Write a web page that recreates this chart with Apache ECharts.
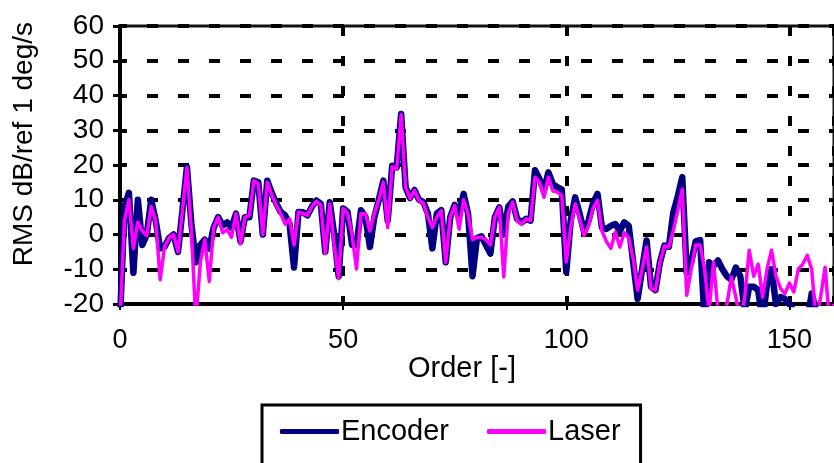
<!DOCTYPE html>
<html>
<head>
<meta charset="utf-8">
<script src="https://cdn.jsdelivr.net/npm/echarts@6/dist/echarts.min.js"></script>
<style>
  html, body { margin: 0; padding: 0; background: #fff; }
  #chart { width: 834px; height: 463px; }
</style>
</head>
<body>
<div id="chart"></div>
<script>
// order axis runs 0..160, one value per order; values under -20 fall off the plot
const orders = Array.from({ length: 161 }, (_, i) => i);
const xTicks = [0, 50, 100, 150];
const yTicks = [-20, -10, 0, 10, 20, 30, 40, 50, 60];

const encoder = [
    -25, 8, 12, -11, 10, -3, 0, 10, 4, -4,
    -3.5, -1, 0, -5, 7, 19.5, 3, -8, -3, -1.5,
    -4, 2, 5, 2.6, 3.5, 2, 6, -2, 5, 5,
    15.5, 15, 0, 15.5, 12, 9, 6.5, 5.5, 3, -9.5,
    6.5, 6.4, 5.5, 8, 9.8, 8.8, -5, 9.3, 0, -12,
    7.5, 6.5, -3, -3, 7, 5, -3.6, 5, 10, 15.5,
    4, 19.8, 19.3, 34.7, 13.6, 10.5, 12.8, 10, 9.3, 6,
    -4, 6, 7, -8, 5, 8.5, 6, 11.7, 6, -12,
    -1, -0.5, -3, -5.5, 5, 7.8, 0, 8, 9.5, 4.5,
    3.5, 4.5, 4, 18.5, 16, 12.6, 17.9, 14.5, 13.6, 13,
    -10.8, 4, 10.7, 6, 0.7, 4, 9, 11.7, 2, 1.6,
    2.5, 3, 1, 3.5, 2.5, -8, -18.5, -10, -1.7, -15,
    -16, -8, -3.2, -3.5, 6.4, 11, 16.5, -11, -8, -2,
    -1.6, -25, -8, -9, -7.5, -10, -12, -13, -9.5, -12,
    -22, -15, -15, -16, -25, -14, -10, -20, -18, -18.5,
    -20, -22, -25, -25, -25, -17, -22, -25, -25, -25,
    -25
];

const laser = [
    -25, 4, 10, -4, 3.5, 1, -0.3, 8, 4, -13,
    -3.5, -1, 0, -5, 7, 19.3, 1, -25, -8, -1.5,
    -13.5, 2, 5, 0.5, 1.5, -0.8, 6, -2.7, 5, 5.5,
    15.5, 14.5, 0, 15, 11.5, 8.5, 6, 3, 4.5, -3,
    6.5, 6, 5.5, 8, 9.5, 8.5, -5.5, 8.8, -3, -12.7,
    7.5, 6, 0, -9.9, 6, 6, 1, 6, 10, 15,
    2, 19.5, 18.9, 34.5, 13.6, 10.3, 12.7, 9.8, 9, 5,
    2, 5, 6.9, -8, 5, 8.3, 1.5, 10, 6, -1.5,
    -0.8, -0.8, -1.5, -3, 5, 7.8, -12.2, 6, 9.3, 4,
    3, 4.5, 4, 16.5, 15, 10.7, 16.5, 12.5, 12.2, 11.2,
    -7.9, 2, 8.8, 4.5, -0.3, 2.5, 7.5, 9.8, 1, -2,
    -4, 0.7, -3.6, 0.5, -1, -7, -16, -10, -3.6, -15.5,
    -16, -8, -3.3, -3.6, 1.2, 7, 13, -17.5, -10, -3,
    -3, -10, -22, -8, -22, -25, -20, -12.3, -18, -25,
    -18, -4.5, -12, -8.5, -18, -10, -4.5, -12, -15.5, -17,
    -14, -16.5, -10, -8.5, -6, -10, -25, -18, -9.4, -25,
    -20
];

const seriesNames = ['Encoder', 'Laser'];

const chart = echarts.init(document.getElementById('chart'), null, { renderer: 'canvas' });

const font = 'Liberation Sans, Arial, sans-serif';

chart.setOption({
    animation: false,
    backgroundColor: '#fff',
    textStyle: { fontFamily: font },
    grid: {
        left: 120, top: 26, right: -2, bottom: 159,
        show: true, borderColor: '#111', borderWidth: 3
    },
    xAxis: {
        type: 'value',
        min: xTicks[0], max: 160, interval: 50,
        axisLine: { onZero: false, lineStyle: { color: '#000', width: 4 } },
        axisTick: { show: true, length: 6, lineStyle: { color: '#000', width: 2 } },
        axisLabel: {
            color: '#000', fontSize: 27, margin: 23, showMaxLabel: false,
            formatter: v => xTicks.includes(v) ? String(v) : ''
        },
        splitLine: {
            show: true,
            lineStyle: { color: '#000', width: 4, type: [10, 20], dashOffset: 0 }
        }
    },
    yAxis: {
        type: 'value',
        min: yTicks[0], max: yTicks[yTicks.length - 1], interval: 10,
        axisLine: { show: true, lineStyle: { color: '#000', width: 4 } },
        axisTick: { show: true, length: 7, lineStyle: { color: '#000', width: 3 } },
        axisLabel: { color: '#000', fontSize: 28, margin: 16 },
        splitLine: {
            show: true,
            lineStyle: { color: '#000', width: 4, type: [11, 20], dashOffset: 4 }
        }
    },
    legend: {
        data: [
            { name: seriesNames[0], icon: 'roundRect' },
            { name: seriesNames[1], icon: 'roundRect' }
        ],
        left: 262, top: 405,
        orient: 'horizontal',
        itemWidth: 59, itemHeight: 5, itemGap: 38,
        padding: [12, 20, 40, 18],
        borderColor: '#000', borderWidth: 3,
        textStyle: { color: '#000', fontSize: 29, padding: [0, 0, 0, -3] }
    },
    graphic: [
        {
            type: 'text', left: 10, top: 22, rotation: Math.PI / 2,
            style: { text: 'RMS dB/ref 1 deg/s', fill: '#000', font: '28px ' + font }
        },
        {
            type: 'text', left: 408, top: 354,
            style: { text: 'Order [-]', fill: '#000', font: '29px ' + font }
        }
    ],
    series: [
        {
            name: seriesNames[0], type: 'line', symbol: 'none', clip: true,
            data: orders.map((o, i) => [o, encoder[i]]),
            lineStyle: { color: '#000080', width: 6.5, join: 'round' },
            itemStyle: { color: '#000080' },
            z: 2
        },
        {
            name: seriesNames[1], type: 'line', symbol: 'none', clip: true,
            data: orders.map((o, i) => [o, laser[i]]),
            lineStyle: { color: '#ff00ff', width: 3.5, join: 'round' },
            itemStyle: { color: '#ff00ff' },
            z: 3
        }
    ]
});
</script>
</body>
</html>
